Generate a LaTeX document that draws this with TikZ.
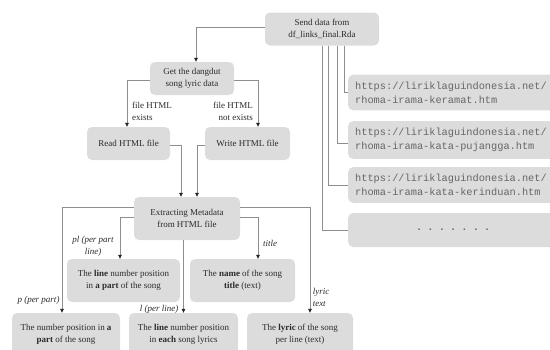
\documentclass[tikz,border=0pt]{standalone}
\usepackage{fontspec}
\setmainfont{Liberation Serif}
\setmonofont{Liberation Mono}
\usepackage{tikz}
\usetikzlibrary{arrows.meta, positioning}
\definecolor{BoxGray}{HTML}{DCDCDC}
\definecolor{LineGray}{HTML}{8E8E8E}
\definecolor{TextDark}{HTML}{2B2B2B}
\definecolor{UrlGray}{HTML}{666666}
\definecolor{TipDark}{HTML}{222222}

\begin{document}
\begin{tikzpicture}[
  x=1pt, y=-1pt,
  box/.style={rectangle, rounded corners=5pt, fill=BoxGray, minimum height=33pt,
              align=center, inner sep=2pt, text=TextDark,
              font=\fontsize{9}{12}\selectfont},
  tallbox/.style={box, minimum height=43pt},
  urlbox/.style={rectangle, rounded corners=5pt, fill=BoxGray, minimum height=34pt,
              anchor=west, text width=196pt, inner sep=7pt, align=left, text=UrlGray,
              font=\fontsize{10.3}{14}\selectfont\ttfamily},
  arr/.style={-{Triangle[length=4pt, width=3.6pt, color=TipDark]}, line width=0.7pt, color=LineGray},
  link/.style={line width=0.7pt, color=LineGray},
  lbl/.style={font=\fontsize{9}{12}\selectfont, text=TextDark, inner sep=0pt},
  ilbl/.style={font=\fontsize{9}{12}\selectfont\itshape, text=TextDark, inner sep=0pt, align=center}
]
\useasboundingbox (0,0) rectangle (550,349);
\clip (0,0) rectangle (550,349);

\node[box, minimum width=114pt] (send)    at (322,29)    {Send data from\\df\_links\_final.Rda};
\node[box, minimum width=84pt]  (get)     at (192,78.5)  {Get the dangdut\\song lyric data};
\node[box, minimum width=83pt]  (read)    at (128.5,143.5) {Read HTML file};
\node[box, minimum width=85pt]  (write)   at (247.5,143.5) {Write HTML file};
\node[tallbox, minimum width=106pt] (extract) at (187,218.5) {Extracting Metadata\\from HTML file};
\node[tallbox, minimum width=113pt] (pline)   at (123.5,280.5) {The \textbf{line} number position\\in \textbf{a part} of the song};
\node[tallbox, minimum width=105pt] (title)   at (242.5,280.5) {The \textbf{name} of the song\\\textbf{title} (text)};
\node[tallbox, minimum width=108pt] (ppart)   at (66,334.5)  {The number position in \textbf{a}\\\textbf{part} of the song};
\node[tallbox, minimum width=109pt] (lline)   at (183.5,334.5) {The \textbf{line} number position\\in \textbf{each} song lyrics};
\node[tallbox, minimum width=106pt] (lyric)   at (300,334.5) {The \textbf{lyric} of the song\\per line (text)};

\node[urlbox] (url1) at (348,92.5) {https://liriklaguindonesia.net/\\rhoma-irama-keramat.htm};
\node[urlbox] (url2) at (348,140)  {https://liriklaguindonesia.net/\\rhoma-irama-kata-pujangga.htm};
\node[urlbox] (url3) at (348,185)  {https://liriklaguindonesia.net/\\rhoma-irama-kata-kerinduan.htm};
\node[urlbox, align=center, font=\fontsize{10.3}{14}\selectfont\ttfamily\bfseries] (more) at (348,230) {. . . . . . .};

\draw[arr] ([yshift=2pt]send.west) -| ([xshift=4pt]get.north);
\draw[arr] ([yshift=-1.5pt]get.west) -| ([xshift=-1.5pt]read.north);
\draw[arr] ([yshift=-1.5pt]get.east) -| ([xshift=10.5pt]write.north);
\node[lbl, anchor=north west, align=left]  (exists)    at (132,102) {file HTML\\exists};
\node[lbl, anchor=north east, align=right] (notexists) at (253,102) {file HTML\\not exists};

\draw[arr] ([yshift=-1.5pt]read.east) -| ([xshift=-6pt]extract.north);
\draw[arr] ([yshift=-1.5pt]write.west) -| ([xshift=10pt]extract.north);

\draw[arr] ([yshift=11.5pt]extract.west) -| ([xshift=-4pt]ppart.north);
\draw[arr] ([yshift=1.5pt]extract.west) -| ([xshift=-3.5pt]pline.north);
\draw[arr] (extract.south -| lline.north) -- (lline.north);
\draw[arr] ([yshift=1.5pt]extract.east) -| ([xshift=15.5pt]title.north);
\draw[arr] ([yshift=11.5pt]extract.east) -| ([xshift=10pt]lyric.north);

\node[ilbl] (plbl)  at (93,246.5)  {pl (per part\\line)};
\node[ilbl] (tlbl)  at (270,243)   {title};
\node[ilbl] (pplbl) at (38.5,300)  {p (per part)};
\node[ilbl] (llbl)  at (159,309)   {l (per line)};
\node[ilbl, align=left] (ylbl) at (321,297.5) {lyric\\text};

\draw[link] ([xshift=22pt]send.south) |- (url1.west);
\draw[link] ([xshift=15pt]send.south) |- ([yshift=-3pt]url2.west);
\draw[link] ([xshift=6pt]send.south)  |- (url3.west);
\draw[link] (send.south) |- (more.west);

\end{tikzpicture}
\end{document}
